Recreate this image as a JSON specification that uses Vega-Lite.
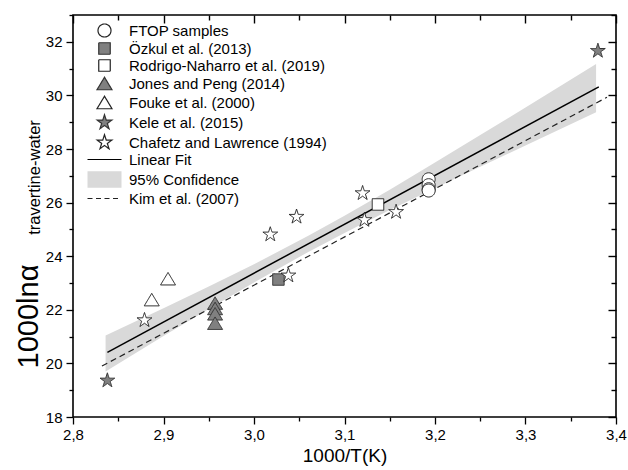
{
  "$schema": "https://vega.github.io/schema/vega-lite/v6.json",
  "width": 543,
  "height": 402,
  "autosize": {"type": "none"},
  "padding": {"left": 73, "top": 15, "right": 12, "bottom": 53},
  "config": {
    "view": {"stroke": "#000", "strokeWidth": 1.6},
    "font": "Liberation Sans",
    "axis": {"domain": false, "grid": false, "tickColor": "#000", "tickWidth": 1.3, "labelColor": "#000", "titleColor": "#000", "labelFont": "Liberation Sans", "titleFont": "Liberation Sans", "labelFontSize": 15, "titleFontWeight": "normal", "labelOverlap": false, "labelFlush": false, "labelBound": false},
    "legend": {"orient": "none", "legendX": 24, "legendY": 8, "padding": 0, "labelFont": "Liberation Sans", "labelFontSize": 15, "labelColor": "#000", "labelLimit": 400, "symbolSize": 100, "symbolStrokeWidth": 1.2, "rowPadding": 0, "labelOffset": 17, "symbolOpacity": 1}
  },
  "datasets": {
    "pts": [
      {"series": "FTOP samples", "x": 3.193, "y": 26.87},
      {"series": "FTOP samples", "x": 3.193, "y": 26.65},
      {"series": "FTOP samples", "x": 3.193, "y": 26.5},
      {"series": "FTOP samples", "x": 3.193, "y": 26.45},
      {"series": "Özkul et al. (2013)", "x": 3.027, "y": 23.13},
      {"series": "Rodrigo-Naharro et al. (2019)", "x": 3.137, "y": 25.93},
      {"series": "Jones and Peng (2014)", "x": 2.957, "y": 22.25},
      {"series": "Jones and Peng (2014)", "x": 2.957, "y": 22.05},
      {"series": "Jones and Peng (2014)", "x": 2.957, "y": 21.85},
      {"series": "Jones and Peng (2014)", "x": 2.957, "y": 21.5},
      {"series": "Fouke et al. (2000)", "x": 2.887, "y": 22.38},
      {"series": "Fouke et al. (2000)", "x": 2.905, "y": 23.16},
      {"series": "Kele et al. (2015)", "x": 2.838, "y": 19.36},
      {"series": "Kele et al. (2015)", "x": 3.380, "y": 31.66},
      {"series": "Chafetz and Lawrence (1994)", "x": 2.879, "y": 21.61},
      {"series": "Chafetz and Lawrence (1994)", "x": 3.018, "y": 24.81},
      {"series": "Chafetz and Lawrence (1994)", "x": 3.047, "y": 25.47},
      {"series": "Chafetz and Lawrence (1994)", "x": 3.038, "y": 23.28},
      {"series": "Chafetz and Lawrence (1994)", "x": 3.120, "y": 26.35},
      {"series": "Chafetz and Lawrence (1994)", "x": 3.122, "y": 25.35},
      {"series": "Chafetz and Lawrence (1994)", "x": 3.157, "y": 25.65}
    ],
    "fit": [
      {"x": 2.838, "y": 20.41},
      {"x": 3.381, "y": 30.32}
    ],
    "kim": [
      {"x": 2.832, "y": 19.9},
      {"x": 3.39, "y": 29.93}
    ],
    "band": [
      {"x": 2.836, "lo": 19.70, "hi": 21.04},
      {"x": 2.9, "lo": 21.02, "hi": 22.06},
      {"x": 2.95, "lo": 22.03, "hi": 22.87},
      {"x": 3.0, "lo": 23.02, "hi": 23.70},
      {"x": 3.06, "lo": 24.16, "hi": 24.76},
      {"x": 3.1, "lo": 24.87, "hi": 25.51},
      {"x": 3.15, "lo": 25.72, "hi": 26.48},
      {"x": 3.2, "lo": 26.54, "hi": 27.50},
      {"x": 3.25, "lo": 27.34, "hi": 28.52},
      {"x": 3.3, "lo": 28.13, "hi": 29.55},
      {"x": 3.378, "lo": 29.37, "hi": 31.17}
    ]
  },
  "layer": [
    {
      "data": {"name": "band"},
      "mark": {"type": "area", "color": "#d9d9d9", "opacity": 1},
      "encoding": {
        "x": {"field": "x", "type": "quantitative", "scale": {"domain": [2.8, 3.4], "nice": false, "zero": false},
          "axis": {"orient": "bottom", "values": [2.8, 2.85, 2.9, 2.95, 3.0, 3.05, 3.1, 3.15, 3.2, 3.25, 3.3, 3.35, 3.4],
            "tickSize": {"condition": {"test": "abs(datum.value*10-round(datum.value*10))<0.01", "value": 7}, "value": 4},
            "labelExpr": "abs(datum.value*10-round(datum.value*10))<0.01 ? replace(format(datum.value,'.1f'),'.',',') : ''",
            "labelPadding": 3, "title": "1000/T(K)", "titleFontSize": 19, "titlePadding": 4}},
        "y": {"field": "lo", "type": "quantitative", "scale": {"domain": [18, 33], "nice": false, "zero": false},
          "axis": {"orient": "left", "values": [18, 19, 20, 21, 22, 23, 24, 25, 26, 27, 28, 29, 30, 31, 32, 33],
            "tickSize": {"condition": {"test": "datum.value % 2 == 0", "value": 7}, "value": 4},
            "labelExpr": "datum.value % 2 == 0 ? format(datum.value,'d') : ''",
            "labelPadding": 4, "title": "1000lnα", "titleFontSize": 29, "titleX": -45, "titleY": 301, "titleAngle": 270, "titleAlign": "center", "titleBaseline": "middle"}},
        "y2": {"field": "hi"}
      }
    },
    {
      "data": {"name": "fit"},
      "mark": {"type": "line", "color": "#000", "strokeWidth": 1.5},
      "encoding": {
        "x": {"field": "x", "type": "quantitative",
          "axis": {"orient": "top", "values": [2.8, 2.9, 3.0, 3.1, 3.2, 3.3, 3.4], "tickSize": -8, "tickColor": "#000000", "tickWidth": 1.4, "labels": false, "title": null}},
        "y": {"field": "y", "type": "quantitative",
          "axis": {"orient": "right", "values": [18, 20, 22, 24, 26, 28, 30, 32], "tickSize": -8, "tickColor": "#000000", "tickWidth": 1.4, "labels": false, "title": null}}
      }
    },
    {
      "data": {"name": "kim"},
      "mark": {"type": "line", "color": "#222", "strokeWidth": 1.2, "strokeDash": [6, 4]},
      "encoding": {
        "x": {"field": "x", "type": "quantitative",
          "axis": {"orient": "top", "values": [2.85, 2.95, 3.05, 3.15, 3.25, 3.35], "tickSize": -5, "tickColor": "#000000", "tickWidth": 1.4, "labels": false, "title": null}},
        "y": {"field": "y", "type": "quantitative",
          "axis": {"orient": "right", "values": [19, 21, 23, 25, 27, 29, 31, 33], "tickSize": -5, "tickColor": "#000000", "tickWidth": 1.4, "labels": false, "title": null}}
      }
    },
    {
      "data": {"name": "pts"},
      "mark": {"type": "point", "size": 100, "opacity": 1, "strokeWidth": 1},
      "encoding": {
        "x": {"field": "x", "type": "quantitative", "axis": null},
        "y": {"field": "y", "type": "quantitative",
          "axis": {"orient": "left", "ticks": false, "labels": false, "domain": false, "title": "travertine-water", "titleFontSize": 16.5, "titleX": -39, "titleY": 162, "titleAngle": 270, "titleAlign": "center", "titleBaseline": "middle"}},
        "shape": {"field": "series", "type": "nominal",
          "scale": {"domain": ["FTOP samples", "Özkul et al. (2013)", "Rodrigo-Naharro et al. (2019)", "Jones and Peng (2014)", "Fouke et al. (2000)", "Kele et al. (2015)", "Chafetz and Lawrence (1994)", "Linear Fit", "95% Confidence", "Kim et al. (2007)"],
            "range": [
              "M1.3,0A1.3,1.3,0,1,1,-1.3,0A1.3,1.3,0,1,1,1.3,0Z",
              "M-1.15,-1.15L1.15,-1.15L1.15,1.15L-1.15,1.15Z",
              "M-1.15,-1.15L1.15,-1.15L1.15,1.15L-1.15,1.15Z",
              "M0,-1.25L1.5,1.25L-1.5,1.25Z",
              "M0,-1.25L1.5,1.25L-1.5,1.25Z",
              "M0,-1.55L0.348,-0.479L1.474,-0.479L0.563,0.183L0.911,1.254L0,0.592L-0.911,1.254L-0.563,0.183L-1.474,-0.479L-0.348,-0.479Z",
              "M0,-1.55L0.348,-0.479L1.474,-0.479L0.563,0.183L0.911,1.254L0,0.592L-0.911,1.254L-0.563,0.183L-1.474,-0.479L-0.348,-0.479Z",
              "M-3.4,0L3.4,0",
              "M-3.4,-1.65L3.4,-1.65L3.4,1.65L-3.4,1.65Z",
              "M-3.4,0L3.4,0"
            ]},
          "legend": {"title": null}},
        "fill": {"field": "series", "type": "nominal",
          "scale": {"domain": ["FTOP samples", "Özkul et al. (2013)", "Rodrigo-Naharro et al. (2019)", "Jones and Peng (2014)", "Fouke et al. (2000)", "Kele et al. (2015)", "Chafetz and Lawrence (1994)", "Linear Fit", "95% Confidence", "Kim et al. (2007)"],
            "range": ["#ffffff", "#808080", "#ffffff", "#808080", "#ffffff", "#808080", "#ffffff", "transparent", "#d9d9d9", "transparent"]},
          "legend": {"title": null}},
        "stroke": {"field": "series", "type": "nominal",
          "scale": {"domain": ["FTOP samples", "Özkul et al. (2013)", "Rodrigo-Naharro et al. (2019)", "Jones and Peng (2014)", "Fouke et al. (2000)", "Kele et al. (2015)", "Chafetz and Lawrence (1994)", "Linear Fit", "95% Confidence", "Kim et al. (2007)"],
            "range": ["#222222", "#333333", "#222222", "#333333", "#222222", "#333333", "#222222", "#000000", "transparent", "#222222"]},
          "legend": {"title": null}},
        "strokeDash": {"field": "series", "type": "nominal",
          "scale": {"domain": ["FTOP samples", "Özkul et al. (2013)", "Rodrigo-Naharro et al. (2019)", "Jones and Peng (2014)", "Fouke et al. (2000)", "Kele et al. (2015)", "Chafetz and Lawrence (1994)", "Linear Fit", "95% Confidence", "Kim et al. (2007)"],
            "range": [[1, 0], [1, 0], [1, 0], [1, 0], [1, 0], [1, 0], [1, 0], [1, 0], [1, 0], [5, 3.5]]},
          "legend": {"title": null}}
      }
    }
  ],
  "resolve": {"axis": {"x": "independent", "y": "independent"}}
}
